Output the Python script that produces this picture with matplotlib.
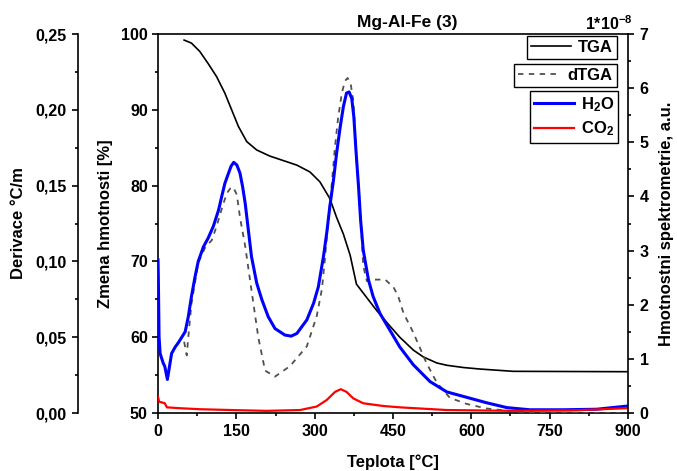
import numpy as np
import matplotlib
matplotlib.use('Agg')
import matplotlib.pyplot as plt
from matplotlib.ticker import MultipleLocator, FuncFormatter

plt.rcParams['font.family'] = ['Liberation Sans', 'DejaVu Sans']
plt.rcParams['font.weight'] = 'bold'
plt.rcParams['mathtext.fontset'] = 'custom'
plt.rcParams['mathtext.rm'] = 'Liberation Sans:bold'
plt.rcParams['mathtext.bf'] = 'Liberation Sans:bold'
plt.rcParams['mathtext.it'] = 'Liberation Sans:bold'
plt.rcParams['mathtext.default'] = 'bf'

# TGA - zmena hmotnosti [%]
tga_t = [50, 64, 80, 96, 112, 128, 141, 154, 170, 189, 214, 240, 266, 291, 310, 329, 342, 355, 368, 380,
         400, 419, 440, 463, 489, 508, 534, 553, 585, 617, 680, 900]
tga_m = [99.2, 98.8, 97.7, 96.1, 94.4, 92.2, 90.0, 87.8, 85.8, 84.7, 83.9, 83.3, 82.7, 81.8, 80.5, 78.3,
         75.8, 73.6, 70.8, 67.0, 65.2, 63.5, 61.8, 60.0, 58.3, 57.4, 56.6, 56.3, 56.0, 55.8, 55.5, 55.45]

# dTGA - derivace
dtga_t = [50, 55, 58, 64, 77, 90, 103, 112, 125, 132, 138, 144, 151, 157, 167, 179, 192, 205, 224, 253, 285, 304,
          314, 320, 326, 333, 339, 345, 352, 358, 363, 369, 374, 377, 380, 385, 389, 393, 400, 412, 435, 451, 460,
          470, 489, 514, 534, 559, 591, 629, 681, 750, 900]
dtga_d = [0.047, 0.038, 0.050, 0.072, 0.099, 0.109, 0.114, 0.123, 0.138, 0.145, 0.148, 0.149, 0.144, 0.129,
          0.110, 0.081, 0.050, 0.028, 0.024, 0.031, 0.044, 0.064, 0.082, 0.103, 0.127, 0.152, 0.176, 0.195, 0.211,
          0.219, 0.221, 0.217, 0.206, 0.189, 0.167, 0.145, 0.123, 0.097, 0.087, 0.088, 0.088, 0.083, 0.077,
          0.066, 0.053, 0.033, 0.020, 0.010, 0.006, 0.003, 0.001, 0.000, 0.000]

# hmotnostni spektrometrie (x 1e-8)
h2o_t = [0, 0.6, 2, 4, 10, 13, 18, 26, 33, 39, 52, 58, 64, 71, 77, 87, 96, 106, 116, 122, 128, 135, 140, 145, 151,
         157, 162, 167, 173, 179, 189, 199, 211, 224, 243, 255, 266, 285, 298, 307, 317, 323, 329, 336, 342, 349, 355,
         361, 366, 371, 375, 379, 384, 388, 393, 403, 412, 425, 444, 463, 489, 521, 553, 591, 629, 668, 712,
         776, 840, 900]
h2o_u = [2.83, 2.52, 1.41, 1.10, 0.92, 0.86, 0.62, 1.10, 1.22, 1.30, 1.50, 1.78, 2.15, 2.52, 2.80, 3.07, 3.23,
         3.45, 3.75, 4.00, 4.24, 4.43, 4.56, 4.63, 4.58, 4.43, 4.18, 3.87, 3.38, 2.89, 2.40, 2.09, 1.78, 1.56,
         1.44, 1.42, 1.47, 1.72, 2.03, 2.33, 2.90, 3.32, 3.81, 4.30, 4.80, 5.29, 5.66, 5.91, 5.93, 5.81, 5.47,
         4.86, 4.18, 3.56, 3.01, 2.46, 2.15, 1.84, 1.53, 1.22, 0.89, 0.58, 0.39, 0.29, 0.19, 0.10, 0.06, 0.06,
         0.07, 0.13]

co2_t = [0, 2, 13, 17, 40, 80, 140, 208, 272, 304, 323, 339, 350, 361, 374, 393, 431, 463, 553, 681, 800, 900]
co2_u = [0.30, 0.21, 0.18, 0.105, 0.09, 0.07, 0.055, 0.04, 0.055, 0.12, 0.24, 0.39, 0.44, 0.39, 0.27, 0.18, 0.13,
         0.105, 0.055, 0.04, 0.05, 0.09]

fig = plt.figure(figsize=(6.77, 4.71), dpi=100)
ax = fig.add_axes([0.2334, 0.1231, 0.6942, 0.8047])
ax_d = ax.twinx()
ax_ms = ax.twinx()

l_tga, = ax.plot(tga_t, tga_m, color='black', lw=1.2, label='TGA')
l_dtga, = ax_d.plot(dtga_t, dtga_d, color='#505050', lw=1.3, ls=(0, (3, 3)), label='dTGA')
l_h2o, = ax_ms.plot(h2o_t, h2o_u, color='#0000ff', lw=2.2, label='H$_2$O')
l_co2, = ax_ms.plot(co2_t, co2_u, color='#ff0000', lw=1.6, label='CO$_2$')

ax.set_xlim(0, 900)
ax.set_ylim(50, 100)
ax_d.set_ylim(0, 0.25)
ax_ms.set_ylim(0, 7)

# vnejsi leva osa pro derivaci
ax_d.yaxis.set_ticks_position('left')
ax_d.yaxis.set_label_position('left')
ax_d.spines['left'].set_position(('outward', 57.6))
for s in ['right', 'top', 'bottom']:
    ax_d.spines[s].set_visible(False)
for s in ['left', 'top', 'bottom']:
    ax_ms.spines[s].set_visible(False)
ax.spines['right'].set_visible(False)

for a in (ax, ax_d, ax_ms):
    for s in a.spines.values():
        s.set_linewidth(1.2)
    a.tick_params(which='both', direction='out', width=1.2, labelsize=11.5)
    a.tick_params(which='major', length=4.3)
    a.tick_params(which='minor', length=2.3)

ax.tick_params(axis='x', pad=3.5)
ax.tick_params(axis='y', pad=3)
ax_ms.tick_params(axis='y', pad=4)
ax_d.tick_params(axis='y', pad=4)

ax.xaxis.set_major_locator(MultipleLocator(150))
ax.xaxis.set_minor_locator(MultipleLocator(75))
ax.yaxis.set_major_locator(MultipleLocator(10))
ax.yaxis.set_minor_locator(MultipleLocator(5))
ax_d.yaxis.set_major_locator(MultipleLocator(0.05))
ax_d.yaxis.set_minor_locator(MultipleLocator(0.025))
ax_d.yaxis.set_major_formatter(FuncFormatter(lambda v, p: f'{v:.2f}'.replace('.', ',')))
ax_ms.yaxis.set_major_locator(MultipleLocator(1))
ax_ms.yaxis.set_minor_locator(MultipleLocator(0.5))

ax.set_xlabel('Teplota [°C]', fontsize=12, fontweight='bold')
ax.xaxis.set_label_coords(0.5, -0.11)
ax.set_ylabel('Zmena hmotnosti [%]', fontsize=12, fontweight='bold')
ax.yaxis.set_label_coords(-0.096, 0.5)
ax_d.set_ylabel('Derivace °C/m', fontsize=12, fontweight='bold')
ax_d.yaxis.set_label_coords(-0.28, 0.5)
ax_ms.set_ylabel('Hmotnostni spektrometrie, a.u.', fontsize=12, fontweight='bold')
ax_ms.yaxis.set_label_coords(1.065, 0.5)

fig.text(407 / 677, 1 - 22 / 471, 'Mg-Al-Fe (3)', ha='center', va='center', fontsize=12.5, fontweight='bold')
fig.text(632 / 677, 1 - 24 / 471, r'1*10$^{-8}$', ha='right', va='center', fontsize=11.5, fontweight='bold')

leg_kw = dict(loc='upper right', bbox_transform=fig.transFigure, fontsize=12, frameon=True, fancybox=False,
              edgecolor='black', framealpha=1, borderpad=0.25, handletextpad=0.4, borderaxespad=0,
              labelspacing=0.35)
leg1 = ax_ms.legend(handles=[l_tga], bbox_to_anchor=(617 / 677, 1 - 36 / 471), handlelength=2.4, **leg_kw)
ax_ms.add_artist(leg1)
leg2 = ax_ms.legend(handles=[l_dtga], bbox_to_anchor=(617 / 677, 1 - 64 / 471), handlelength=2.6, **leg_kw)
ax_ms.add_artist(leg2)
leg3 = ax_ms.legend(handles=[l_h2o, l_co2], bbox_to_anchor=(618 / 677, 1 - 91 / 471), handlelength=2.4, **leg_kw)
for leg in (leg1, leg2, leg3):
    leg.get_frame().set_linewidth(1.0)

fig.savefig('out.png', dpi=100)
